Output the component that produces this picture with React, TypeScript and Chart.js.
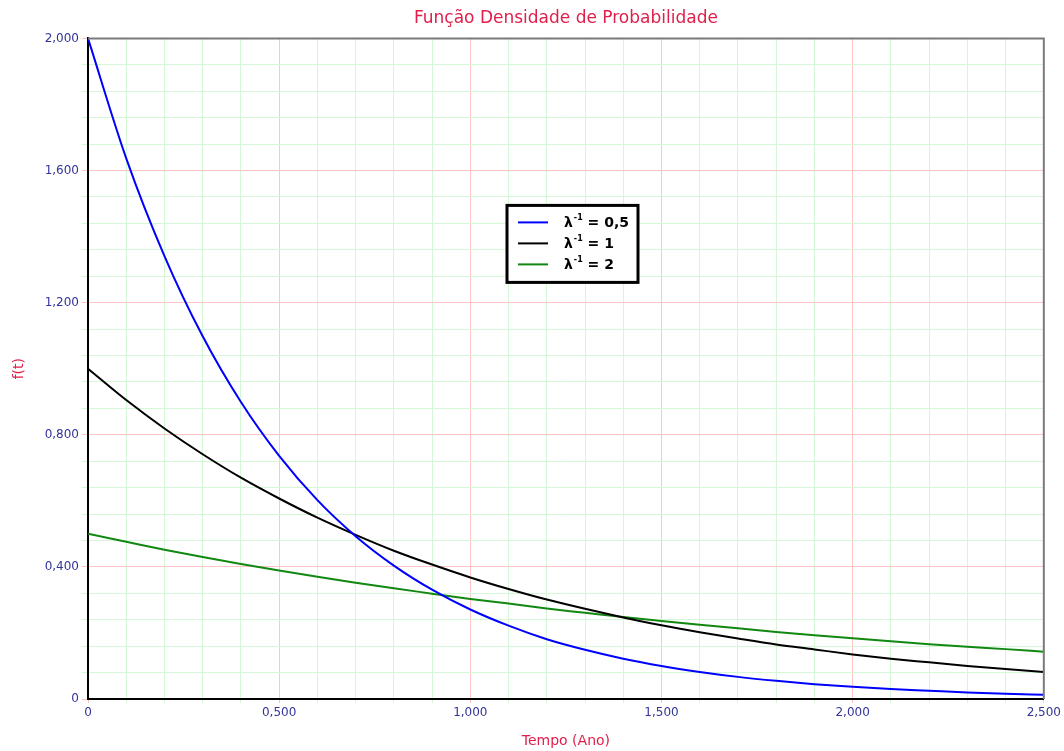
import React, { useEffect, useRef } from "react";
import { Chart, registerables } from "chart.js";

Chart.register(...registerables);

// t (years)
const tempo = [0, 0.1, 0.2, 0.3, 0.4, 0.5, 0.6, 0.7, 0.8, 0.9, 1.0, 1.1, 1.2, 1.3, 1.4, 1.5, 1.6, 1.7, 1.8, 1.9, 2.0, 2.1, 2.2, 2.3, 2.4, 2.5];
// mean 0.5
const serieA = [2.0, 1.637, 1.341, 1.098, 0.899, 0.736, 0.602, 0.493, 0.404, 0.331, 0.271, 0.222, 0.181, 0.149, 0.122, 0.1, 0.082, 0.067, 0.055, 0.045, 0.037, 0.03, 0.025, 0.02, 0.016, 0.013];
// mean 1
const serieB = [1.0, 0.905, 0.819, 0.741, 0.67, 0.607, 0.549, 0.497, 0.449, 0.407, 0.368, 0.333, 0.301, 0.273, 0.247, 0.223, 0.202, 0.183, 0.165, 0.15, 0.135, 0.122, 0.111, 0.1, 0.091, 0.082];
// mean 2
const serieC = [0.5, 0.476, 0.452, 0.43, 0.409, 0.389, 0.37, 0.352, 0.335, 0.319, 0.303, 0.289, 0.274, 0.261, 0.248, 0.236, 0.225, 0.214, 0.203, 0.193, 0.184, 0.175, 0.166, 0.158, 0.151, 0.143];

const legendLabels = ["0,5", "1", "2"];
const seriesColors = ["#0000FF", "#000000", "#118811"];

const RED_GRID = "#FFC4C4";
const GREEN_GRID = "#D6F7D6";
const TICK_COLOR = "#33339A";
const TITLE_COLOR = "#E0204A";
const FONT = "DejaVu Sans";

const fmt = (v: number) => (Math.abs(v) < 1e-9 ? "0" : v.toFixed(3).replace(".", ","));

const framePlugin = {
  id: "frame",
  afterDatasetsDraw(chart: any) {
    const { ctx, chartArea } = chart;
    const { left, right, top, bottom } = chartArea;
    ctx.save();
    ctx.strokeStyle = "#7A7A7A";
    ctx.lineWidth = 2;
    ctx.beginPath();
    ctx.moveTo(left, top);
    ctx.lineTo(right, top);
    ctx.lineTo(right, bottom);
    ctx.stroke();
    ctx.restore();
  },
};

const legendPlugin = {
  id: "boxLegend",
  afterDraw(chart: any) {
    const { ctx, chartArea } = chart;
    const x0 = chartArea.left + 419;
    const y0 = chartArea.top + 167;
    const w = 131;
    const h = 77;
    ctx.save();
    ctx.fillStyle = "#FFFFFF";
    ctx.fillRect(x0, y0, w, h);
    ctx.strokeStyle = "#000000";
    ctx.lineWidth = 3;
    ctx.strokeRect(x0, y0, w, h);
    legendLabels.forEach((lab, i) => {
      const y = y0 + 17 + i * 21;
      ctx.strokeStyle = seriesColors[i];
      ctx.lineWidth = 2;
      ctx.beginPath();
      ctx.moveTo(x0 + 11, y);
      ctx.lineTo(x0 + 41, y);
      ctx.stroke();
      ctx.fillStyle = "#000000";
      ctx.textBaseline = "middle";
      ctx.textAlign = "left";
      ctx.font = `bold 14px ${FONT}`;
      let tx = x0 + 57;
      ctx.fillText("λ", tx, y + 1);
      tx += ctx.measureText("λ").width + 1;
      ctx.font = `bold 8px ${FONT}`;
      ctx.fillText("-1", tx, y - 4);
      tx += ctx.measureText("-1").width;
      ctx.font = `bold 14px ${FONT}`;
      ctx.fillText(" = " + lab, tx, y + 1);
    });
    ctx.restore();
  },
};

export default function App() {
  const ref = useRef<HTMLCanvasElement>(null);
  useEffect(() => {
    if (!ref.current) return;
    const mk = (arr: number[]) => tempo.map((t, i) => ({ x: t, y: arr[i] }));
    const chart = new Chart(ref.current, {
      type: "line",
      data: {
        datasets: [serieA, serieB, serieC].map((arr, i) => ({
          label: "λ-1 = " + legendLabels[i],
          data: mk(arr),
          borderColor: seriesColors[i],
          backgroundColor: seriesColors[i],
          borderWidth: 2,
          pointRadius: 0,
          cubicInterpolationMode: "monotone" as const,
        })),
      },
      options: {
        animation: false,
        responsive: true,
        maintainAspectRatio: false,
        layout: { padding: { left: 0, right: 20, top: 0, bottom: 0 } },
        plugins: {
          legend: { display: false },
          tooltip: { enabled: false },
          title: {
            display: true,
            fullSize: false,
            text: "Função Densidade de Probabilidade",
            color: TITLE_COLOR,
            font: { family: FONT, size: 17, weight: "normal" },
            padding: { top: 8, bottom: 10 },
          },
        },
        scales: {
          x: {
            type: "linear",
            min: 0,
            max: 2.5,
            afterFit: (s: any) => {
              s.height = 52;
            },
            border: { color: "#000000", width: 2 },
            grid: {
              color: (c: any) => (Math.round(c.tick.value * 10) % 5 === 0 ? RED_GRID : GREEN_GRID),
              tickLength: 4,
            },
            ticks: {
              stepSize: 0.1,
              autoSkip: false,
              maxRotation: 0,
              color: TICK_COLOR,
              font: { family: FONT, size: 12 },
              padding: 3,
              callback: (v: any) => (Math.round(Number(v) * 10) % 5 === 0 ? fmt(Number(v)) : ""),
            },
            title: {
              display: true,
              text: "Tempo (Ano)",
              color: TITLE_COLOR,
              font: { family: FONT, size: 14 },
              padding: { top: 0, bottom: 1 },
            },
          },
          y: {
            type: "linear",
            min: 0,
            max: 2,
            afterFit: (s: any) => {
              s.width = 88;
            },
            border: { color: "#000000", width: 2 },
            grid: {
              color: (c: any) => (Math.round(c.tick.value / 0.08) % 5 === 0 ? RED_GRID : GREEN_GRID),
              tickLength: 6,
            },
            ticks: {
              stepSize: 0.08,
              autoSkip: false,
              color: TICK_COLOR,
              font: { family: FONT, size: 12 },
              padding: 3,
              callback: (v: any) => (Math.round(Number(v) / 0.08) % 5 === 0 ? fmt(Number(v)) : ""),
            },
            title: {
              display: true,
              text: "f(t)",
              color: TITLE_COLOR,
              font: { family: FONT, size: 14 },
              padding: { top: 11, bottom: 0 },
            },
          },
        },
      },
      plugins: [framePlugin, legendPlugin],
    });
    return () => chart.destroy();
  }, []);
  return (
    <div style={{ position: "absolute", left: 0, top: 0, width: 1064, height: 751, background: "#FFFFFF" }}>
      <canvas ref={ref} />
    </div>
  );
}
